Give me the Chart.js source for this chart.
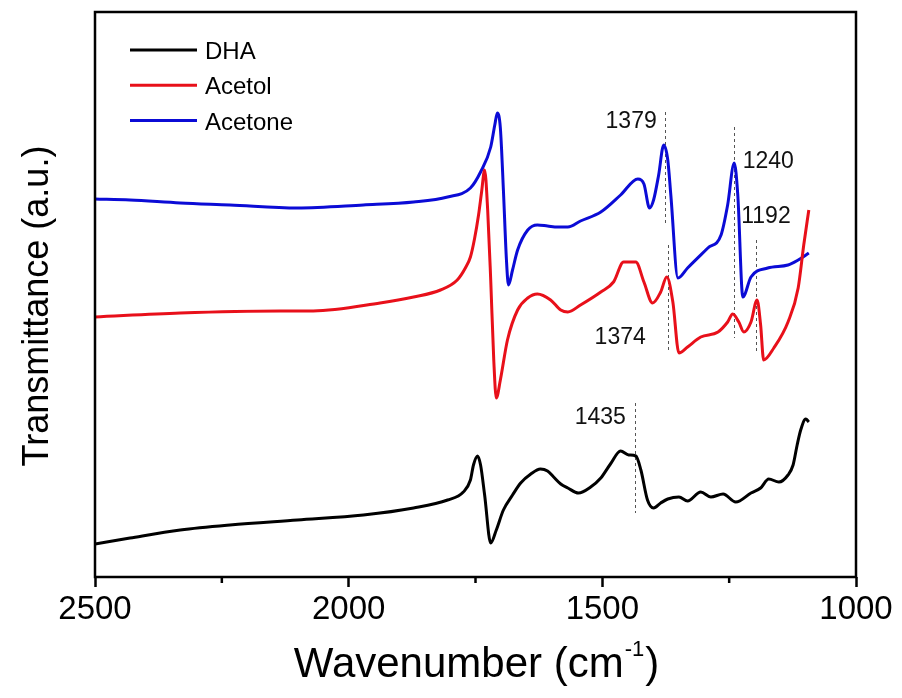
<!DOCTYPE html>
<html>
<head>
<meta charset="utf-8">
<script src="https://cdn.jsdelivr.net/npm/chart.js@4.4.1/dist/chart.umd.min.js"></script>
<style>
  html, body { margin: 0; padding: 0; background: #fff; }
  #wrap { width: 902px; height: 698px; position: relative; }
</style>
</head>
<body>
<div id="wrap"><canvas id="ftirChart"></canvas></div>
<script>
// FTIR spectra, wavenumber (cm-1) vs transmittance (a.u., offset traces)
const dhaWave = [2500, 2431, 2332, 2234, 2101, 1971, 1872, 1805, 1774, 1760, 1754, 1746, 1740, 1732, 1720, 1709, 1695, 1677, 1661, 1641, 1622, 1608, 1596, 1582, 1568, 1547, 1523, 1503, 1484, 1464, 1448, 1434, 1424, 1411, 1399, 1385, 1371, 1349, 1332, 1306, 1286, 1262, 1237, 1207, 1188, 1172, 1152, 1134, 1124, 1116, 1109, 1099, 1093];
const dhaT = [33, 39, 47, 52, 57, 62, 69, 77, 85, 97, 112, 121, 112, 82, 34, 47, 67, 82, 94, 103, 108, 106, 100, 93, 89, 84, 90, 99, 113, 126, 122, 121, 107, 77, 69, 74, 78, 80, 76, 85, 80, 83, 75, 84, 89, 98, 95, 102, 112, 132, 147, 158, 155];

const acetolWave = [2500, 2332, 2135, 2070, 1938, 1872, 1819, 1786, 1770, 1760, 1752, 1744, 1738, 1732, 1726, 1720, 1714, 1709, 1701, 1687, 1667, 1647, 1628, 1602, 1582, 1568, 1543, 1503, 1478, 1458, 1434, 1418, 1401, 1385, 1373, 1361, 1349, 1332, 1306, 1272, 1253, 1243, 1231, 1221, 1207, 1195, 1188, 1182, 1162, 1134, 1114, 1103, 1093];
const acetolT = [260, 264, 266, 266, 274, 280, 287, 297, 309, 320, 338, 362, 385, 407, 367, 297, 217, 179, 197, 237, 267, 279, 283, 277, 267, 265, 272, 285, 295, 315, 315, 295, 274, 285, 300, 275, 224, 230, 240, 245, 255, 263, 255, 245, 255, 277, 252, 217, 229, 255, 289, 332, 367];

const acetoneWave = [2500, 2431, 2332, 2234, 2101, 1971, 1872, 1805, 1760, 1740, 1720, 1712, 1707, 1701, 1695, 1689, 1685, 1677, 1667, 1647, 1628, 1608, 1588, 1568, 1543, 1503, 1464, 1430, 1418, 1407, 1399, 1389, 1379, 1371, 1365, 1351, 1332, 1292, 1266, 1253, 1240, 1233, 1223, 1207, 1174, 1134, 1114, 1093];
const acetoneT = [378, 377, 374, 372, 369, 372, 375, 380, 389, 405, 430, 452, 464, 449, 387, 317, 292, 307, 327, 347, 352, 351, 350, 350, 356, 365, 382, 398, 393, 369, 377, 402, 432, 417, 382, 299, 309, 329, 342, 372, 414, 382, 280, 300, 309, 312, 317, 324];

const seriesNames = ['DHA', 'Acetol', 'Acetone'];
const seriesColors = ['#000000', '#e8101a', '#0b0bd6'];
const majorTicks = [2500, 2000, 1500, 1000];
const minorTicks = [2250, 1750, 1250];

// peak markers: label, wavenumber of the dashed line, its top/bottom (a.u.)
const peakLabels = ['1379', '1374', '1240', '1192', '1435'];
const peakWave = [1377, 1371, 1241, 1197, 1436];
const peakTop = [465, 332, 450, 337, 174];
const peakBottom = [352, 227, 239, 224, 64];
const peakTextY = [455, 239, 415, 360, 159];
const peakTextDx = [-8, -22, 9, -15, -9];
const peakTextAlign = ['right', 'right', 'left', 'left', 'right'];

const AXIS_FONT = "'Liberation Sans', Arial, sans-serif";
const TEXT_FONT = "'Liberation Sans', Arial, sans-serif";

const toPoints = (xs, ys) => xs.map((x, i) => ({ x: x, y: ys[i] }));

const decorPlugin = {
    id: 'decor',
    beforeDatasetsDraw(chart) {
        const ctx = chart.ctx;
        const xs = chart.scales.x, ys = chart.scales.y;
        ctx.save();
        ctx.strokeStyle = '#555';
        ctx.lineWidth = 1;
        ctx.setLineDash([3, 3]);
        peakWave.forEach((w, i) => {
            const px = Math.round(xs.getPixelForValue(w)) + 0.5;
            ctx.beginPath();
            ctx.moveTo(px, ys.getPixelForValue(peakTop[i]));
            ctx.lineTo(px, ys.getPixelForValue(peakBottom[i]));
            ctx.stroke();
        });
        ctx.setLineDash([]);
        ctx.fillStyle = '#111';
        ctx.font = '23px ' + TEXT_FONT;
        ctx.textBaseline = 'middle';
        peakLabels.forEach((t, i) => {
            ctx.textAlign = peakTextAlign[i];
            let px = xs.getPixelForValue(peakWave[i]) + peakTextDx[i];
            if (i === 3) px = xs.getPixelForValue(1240) + 7;
            ctx.fillText(t, px, ys.getPixelForValue(peakTextY[i]));
        });
        ctx.restore();
    },
    afterDraw(chart) {
        const ctx = chart.ctx;
        const a = chart.chartArea;
        const xs = chart.scales.x;
        ctx.save();
        // frame
        ctx.strokeStyle = '#000';
        ctx.lineWidth = 2.5;
        ctx.strokeRect(a.left, a.top, a.right - a.left, a.bottom - a.top);
        // minor ticks
        minorTicks.forEach(v => {
            const px = xs.getPixelForValue(v);
            ctx.beginPath();
            ctx.moveTo(px, a.bottom);
            ctx.lineTo(px, a.bottom + 6);
            ctx.stroke();
        });
        // legend
        ctx.font = '24px ' + TEXT_FONT;
        ctx.textAlign = 'left';
        ctx.textBaseline = 'alphabetic';
        seriesNames.forEach((name, i) => {
            const y = 50 + i * 35.3;
            ctx.strokeStyle = seriesColors[i];
            ctx.lineWidth = 3;
            ctx.beginPath();
            ctx.moveTo(130, y);
            ctx.lineTo(197, y);
            ctx.stroke();
            ctx.fillStyle = '#000';
            ctx.fillText(name, 205, y + 9);
        });
        // x title with superscript
        ctx.fillStyle = '#000';
        const main = 'Wavenumber (cm';
        ctx.font = '42px ' + AXIS_FONT;
        const w1 = ctx.measureText(main).width;
        const w3 = ctx.measureText(')').width;
        ctx.font = '22px ' + AXIS_FONT;
        const w2 = ctx.measureText('-1').width;
        const cx = (a.left + a.right) / 2;
        const x0 = cx - (w1 + w2 + w3) / 2;
        const base = 677;
        ctx.font = '42px ' + AXIS_FONT;
        ctx.fillText(main, x0, base);
        ctx.font = '22px ' + AXIS_FONT;
        ctx.fillText('-1', x0 + w1 + 1, base - 21);
        ctx.font = '42px ' + AXIS_FONT;
        ctx.fillText(')', x0 + w1 + w2 + 2, base);
        // y title
        ctx.translate(48, 306);
        ctx.rotate(-Math.PI / 2);
        ctx.textAlign = 'center';
        ctx.font = '36px ' + AXIS_FONT;
        ctx.fillText('Transmittance (a.u.)', 0, 0);
        ctx.restore();
    }
};

new Chart(document.getElementById('ftirChart'), {
    type: 'line',
    data: {
        datasets: [
            { label: seriesNames[0], data: toPoints(dhaWave, dhaT), borderColor: seriesColors[0] },
            { label: seriesNames[1], data: toPoints(acetolWave, acetolT), borderColor: seriesColors[1] },
            { label: seriesNames[2], data: toPoints(acetoneWave, acetoneT), borderColor: seriesColors[2] }
        ].map(d => Object.assign(d, {
            borderWidth: 3,
            pointRadius: 0,
            fill: false,
            cubicInterpolationMode: 'monotone'
        }))
    },
    options: {
        responsive: true,
        maintainAspectRatio: false,
        animation: false,
        layout: { padding: { left: 95, right: 46, top: 12, bottom: 0 } },
        plugins: {
            legend: { display: false },
            tooltip: { enabled: false }
        },
        scales: {
            x: {
                type: 'linear',
                reverse: true,
                min: 1000,
                max: 2500,
                afterFit: s => { s.height = 121; },
                afterBuildTicks: s => { s.ticks = majorTicks.map(v => ({ value: v })); },
                border: { display: false },
                grid: {
                    drawOnChartArea: false,
                    drawTicks: true,
                    tickLength: 10,
                    tickWidth: 2.5,
                    tickColor: '#000'
                },
                ticks: {
                    color: '#000',
                    font: { family: AXIS_FONT, size: 33 },
                    padding: 3,
                    maxRotation: 0,
                    autoSkip: false,
                    callback: v => String(v)
                }
            },
            y: {
                display: false,
                min: 0,
                max: 565
            }
        }
    },
    plugins: [decorPlugin]
});
</script>
</body>
</html>
